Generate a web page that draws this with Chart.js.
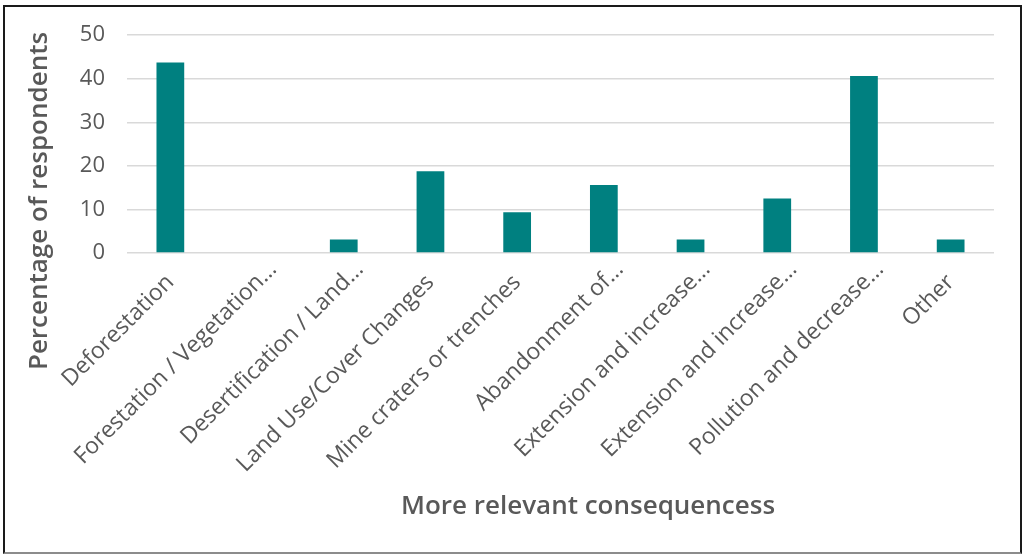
<!DOCTYPE html>
<html>
<head>
<meta charset="utf-8">
<script src="https://cdn.jsdelivr.net/npm/chart.js@4"></script>
<style>
  html, body { margin: 0; padding: 0; background: #fff; }
  #wrap { position: relative; width: 1023px; height: 557px; }
  #frame { position: absolute; left: 3px; top: 5px; width: 1015px; height: 545px; border: 2px solid #1a1a1a; border-bottom-color: #8c8c8c; pointer-events: none; }
  canvas { position: absolute; left: 0; top: 0; }
</style>
</head>
<body>
<div id="wrap">
  <canvas id="chart" width="1023" height="557"></canvas>
  <div id="frame"></div>
</div>
<script>
// categories as shown on the axis (long ones are cut off in the source)
const categories = [
  "Deforestation",
  "Forestation / Vegetation…",
  "Desertification / Land…",
  "Land Use/Cover Changes",
  "Mine craters or trenches",
  "Abandonment of…",
  "Extension and increase…",
  "Extension and increase…",
  "Pollution and decrease…",
  "Other"
];
const percentages = [43.75, 0, 3.125, 18.75, 9.375, 15.625, 3.125, 12.5, 40.625, 3.125];
const yTicks = [0, 10, 20, 30, 40, 50];

const textColor = "#595959";
const fontFamily = "'Open Sans', Lato, sans-serif";

// in the source the "…" of cut labels hangs past the tick, nudge those up-right
const cutLabelShift = {
  id: "cutLabelShift",
  beforeDraw(chart) {
    chart.scales.x.getLabelItems().forEach(item => {
      if (item._shifted || !String(item.label).endsWith("…")) return;
      const t = item.options.translation;
      item.options.translation = [t[0] + 16, t[1] - 13];
      item._shifted = true;
    });
  }
};

// axis titles are placed off-centre in the source, so draw them by hand
const axisTitles = {
  id: "axisTitles",
  afterDraw(chart) {
    const ctx = chart.ctx;
    ctx.save();
    ctx.fillStyle = textColor;
    ctx.font = "600 26px " + fontFamily;
    ctx.textAlign = "center";
    ctx.textBaseline = "middle";
    ctx.translate(40, 201);
    ctx.rotate(-Math.PI / 2);
    ctx.fillText("Percentage of respondents", 0, 0);
    ctx.restore();

    ctx.save();
    ctx.fillStyle = textColor;
    ctx.font = "600 26px " + fontFamily;
    ctx.textAlign = "center";
    ctx.textBaseline = "middle";
    ctx.fillText("More relevant consequencess", 588, 507);
    ctx.restore();
  }
};

new Chart(document.getElementById("chart"), {
  type: "bar",
  data: {
    labels: categories,
    datasets: [{
      data: percentages,
      backgroundColor: "#008080",
      borderWidth: 0,
      barPercentage: 0.32,
      categoryPercentage: 1
    }]
  },
  options: {
    responsive: false,
    animation: false,
    layout: { padding: { top: 34, right: 29, bottom: 0, left: 0 } },
    plugins: {
      legend: { display: false },
      tooltip: { enabled: false }
    },
    scales: {
      y: {
        min: 0,
        max: 50,
        afterBuildTicks(scale) {
          scale.ticks = yTicks.map(v => ({ value: v }));
        },
        afterFit(scale) { scale.width = 127; },
        border: { display: false },
        grid: { color: "#d9d9d9", lineWidth: 1.5, drawTicks: false },
        ticks: {
          color: textColor,
          padding: 22,
          font: { family: fontFamily, size: 22 }
        }
      },
      x: {
        afterFit(scale) { scale.height = 557 - 253; },
        border: { display: false },
        grid: { display: false },
        ticks: {
          color: textColor,
          minRotation: 45,
          maxRotation: 45,
          autoSkip: false,
          padding: 8,
          font: { family: fontFamily, size: 23 }
        }
      }
    }
  },
  plugins: [cutLabelShift, axisTitles]
});
</script>
</body>
</html>
